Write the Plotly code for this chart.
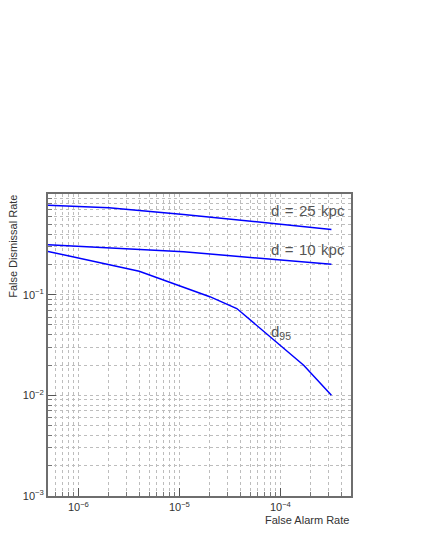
import plotly.graph_objects as go

# curves (false alarm rate -> false dismissal rate)
far_25 = [5e-7, 2e-6, 1.1e-5, 7.3e-5, 3.2e-4]
fdr_25 = [0.774, 0.730, 0.626, 0.518, 0.445]

far_10 = [5e-7, 2e-6, 1.1e-5, 3.2e-4]
fdr_10 = [0.313, 0.293, 0.267, 0.200]

far_95 = [5e-7, 1e-6, 4e-6, 2e-5, 3.7e-5, 1.7e-4, 3.2e-4]
fdr_95 = [0.269, 0.230, 0.171, 0.0955, 0.0728, 0.0199, 0.0100]

x_ticks = [1e-6, 1e-5, 1e-4]
x_labels = ["10<sup>−6</sup>", "10<sup>−5</sup>", "10<sup>−4</sup>"]
y_ticks = [1e-3, 1e-2, 1e-1]
y_labels = ["10<sup>−3</sup>", "10<sup>−2</sup>", "10<sup>−1</sup>"]

# minor grid positions: 2..9 in each decade
x_minor = [m * 10.0 ** e for e in (-7, -6, -5, -4) for m in range(2, 10)]
y_minor = [m * 10.0 ** e for e in (-3, -2, -1) for m in range(2, 10)]

FONT = "Liberation Sans, Arial, sans-serif"
GRID = "#bdbdbd"
SP = " \u200a"  # slightly wider gap, like the original labels

fig = go.Figure()
for xs, ys in [(far_25, fdr_25), (far_10, fdr_10), (far_95, fdr_95)]:
    fig.add_trace(go.Scatter(x=xs, y=ys, mode="lines",
                             line=dict(color="#0000ff", width=1.5),
                             showlegend=False, hoverinfo="skip"))

axis_common = dict(
    type="log", showline=True, linecolor="#6e6e6e", linewidth=2, mirror=True,
    ticks="inside", ticklen=8, tickcolor="#555555", automargin=False,
    showgrid=True, gridcolor=GRID, griddash="dot", gridwidth=1,
    zeroline=False, tickfont=dict(family=FONT, size=11, color="#333333"),
)
minor_common = dict(ticks="inside", ticklen=4, tickcolor="#777777",
                    showgrid=True, gridcolor=GRID, griddash="dot", gridwidth=1)

fig.update_xaxes(range=[-6.301, -3.301], tickvals=x_ticks, ticktext=x_labels,
                 minor=dict(tickvals=x_minor, **minor_common), **axis_common)
fig.update_yaxes(range=[-3, 0], tickvals=y_ticks, ticktext=y_labels,
                 minor=dict(tickvals=y_minor, **minor_common), **axis_common)

# page body adds an 8px offset, so the figure is shifted/shrunk to compensate
fig.update_layout(
    width=413, height=537,
    margin=dict(l=40, r=70, t=186, b=49),
    paper_bgcolor="white", plot_bgcolor="white",
    font=dict(family=FONT, color="#333333"),
    annotations=[
        dict(text="False Dismissal Rate", xref="paper", yref="paper",
             x=-0.118, y=1.003, xanchor="center", yanchor="top", textangle=-90,
             showarrow=False, font=dict(size=11, color="#333333")),
        dict(text="False Alarm Rate", xref="paper", yref="paper",
             x=1.0, y=-0.078, xanchor="right", yanchor="middle",
             showarrow=False, font=dict(size=11, color="#333333")),
        dict(text="d" + SP + "=" + SP + "25" + SP + "kpc", xref="paper", yref="paper",
             x=0.73, y=0.944, xanchor="left", yanchor="middle",
             showarrow=False, font=dict(size=15, color="#555555")),
        dict(text="d" + SP + "=" + SP + "10" + SP + "kpc", xref="paper", yref="paper",
             x=0.73, y=0.815, xanchor="left", yanchor="middle",
             showarrow=False, font=dict(size=15, color="#555555")),
        dict(text="d<sub>95</sub>", xref="paper", yref="paper",
             x=0.73, y=0.54, xanchor="left", yanchor="middle",
             showarrow=False, font=dict(size=15, color="#555555")),
    ],
)

fig.write_html("out.html")
